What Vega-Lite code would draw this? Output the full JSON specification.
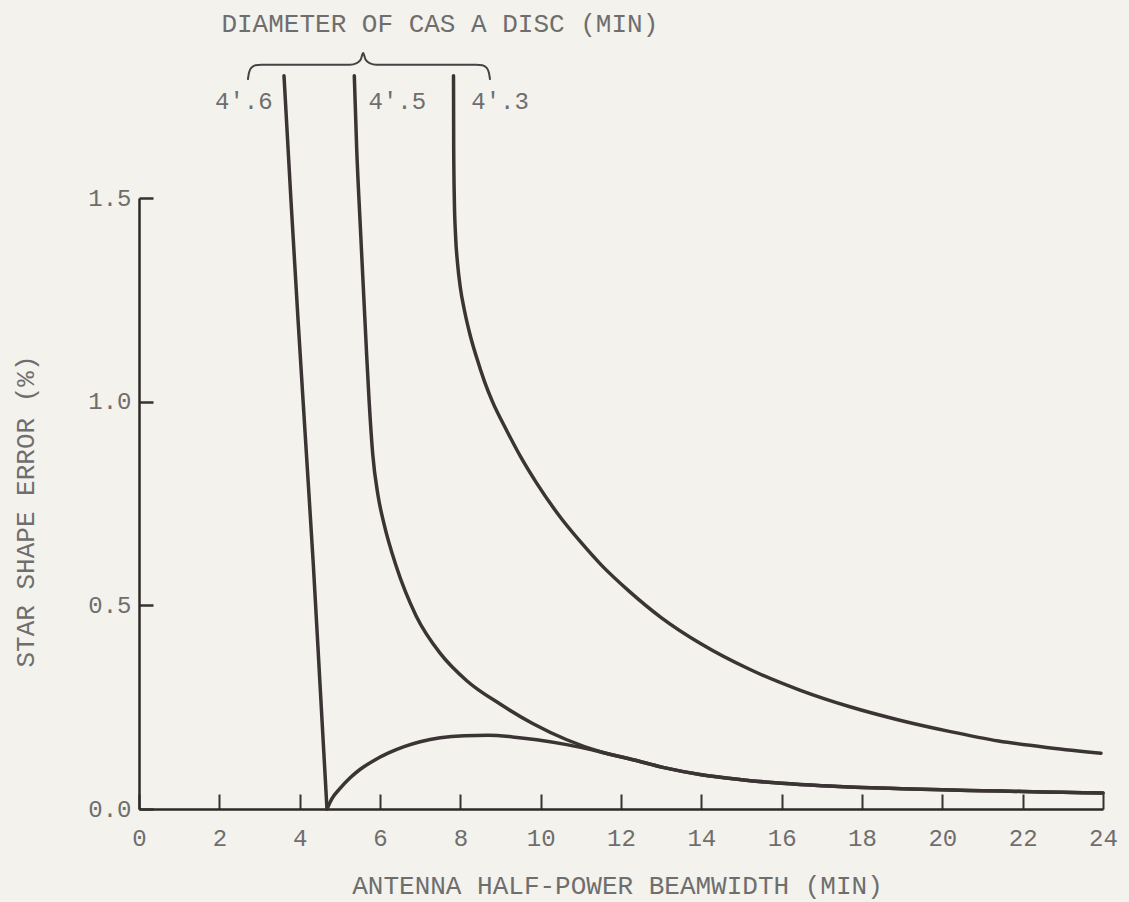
{
  "$schema": "https://vega.github.io/schema/vega-lite/v6.json",
  "width": 964,
  "height": 611,
  "autosize": {"type": "none"},
  "padding": {"left": 139, "top": 198, "right": 26, "bottom": 93},
  "background": "#f4f2ec",
  "config": {"view": {"stroke": null}, "font": "Liberation Mono"},
  "datasets": {
    "curves": [
      {"c": "a", "o": 1, "x": 3.61, "y": 1.8},
      {"c": "a", "o": 2, "x": 3.78, "y": 1.5},
      {"c": "a", "o": 3, "x": 3.96, "y": 1.2},
      {"c": "a", "o": 4, "x": 4.15, "y": 0.9},
      {"c": "a", "o": 5, "x": 4.34, "y": 0.6},
      {"c": "a", "o": 6, "x": 4.51, "y": 0.3},
      {"c": "a", "o": 7, "x": 4.68, "y": 0},
      {"c": "b", "o": 1, "x": 4.68, "y": 0},
      {"c": "b", "o": 2, "x": 4.8, "y": 0.025},
      {"c": "b", "o": 3, "x": 5.0, "y": 0.05},
      {"c": "b", "o": 4, "x": 5.25, "y": 0.076},
      {"c": "b", "o": 5, "x": 5.5, "y": 0.097},
      {"c": "b", "o": 6, "x": 5.83, "y": 0.118},
      {"c": "b", "o": 7, "x": 6.2, "y": 0.137},
      {"c": "b", "o": 8, "x": 6.6, "y": 0.153},
      {"c": "b", "o": 9, "x": 7.0, "y": 0.165},
      {"c": "b", "o": 10, "x": 7.5, "y": 0.175},
      {"c": "b", "o": 11, "x": 8.1, "y": 0.18},
      {"c": "b", "o": 12, "x": 8.7, "y": 0.181},
      {"c": "b", "o": 13, "x": 9.3, "y": 0.177},
      {"c": "b", "o": 14, "x": 9.9, "y": 0.17},
      {"c": "b", "o": 15, "x": 10.65, "y": 0.158},
      {"c": "b", "o": 16, "x": 11.5, "y": 0.14},
      {"c": "b", "o": 17, "x": 12.3, "y": 0.121},
      {"c": "b", "o": 18, "x": 13.1, "y": 0.101},
      {"c": "b", "o": 19, "x": 14.0, "y": 0.084},
      {"c": "b", "o": 20, "x": 15.0, "y": 0.072},
      {"c": "b", "o": 21, "x": 16.0, "y": 0.063},
      {"c": "b", "o": 22, "x": 17.0, "y": 0.057},
      {"c": "b", "o": 23, "x": 18.0, "y": 0.053},
      {"c": "b", "o": 24, "x": 19.0, "y": 0.05},
      {"c": "b", "o": 25, "x": 20.0, "y": 0.047},
      {"c": "b", "o": 26, "x": 21.0, "y": 0.045},
      {"c": "b", "o": 27, "x": 22.0, "y": 0.043},
      {"c": "b", "o": 28, "x": 23.0, "y": 0.041},
      {"c": "b", "o": 29, "x": 24.0, "y": 0.039},
      {"c": "c", "o": 1, "x": 5.36, "y": 1.8},
      {"c": "c", "o": 2, "x": 5.42, "y": 1.62},
      {"c": "c", "o": 3, "x": 5.5, "y": 1.45},
      {"c": "c", "o": 4, "x": 5.58, "y": 1.29},
      {"c": "c", "o": 5, "x": 5.66, "y": 1.13},
      {"c": "c", "o": 6, "x": 5.73, "y": 1.0},
      {"c": "c", "o": 7, "x": 5.82, "y": 0.87},
      {"c": "c", "o": 8, "x": 5.95, "y": 0.77},
      {"c": "c", "o": 9, "x": 6.1, "y": 0.7},
      {"c": "c", "o": 10, "x": 6.4, "y": 0.597},
      {"c": "c", "o": 11, "x": 6.9, "y": 0.474},
      {"c": "c", "o": 12, "x": 7.5, "y": 0.382},
      {"c": "c", "o": 13, "x": 8.16, "y": 0.315},
      {"c": "c", "o": 14, "x": 9.0, "y": 0.257},
      {"c": "c", "o": 15, "x": 9.8, "y": 0.21},
      {"c": "c", "o": 16, "x": 10.65, "y": 0.17},
      {"c": "c", "o": 17, "x": 11.5, "y": 0.14},
      {"c": "c", "o": 18, "x": 12.3, "y": 0.121},
      {"c": "c", "o": 19, "x": 13.1, "y": 0.101},
      {"c": "c", "o": 20, "x": 14.0, "y": 0.084},
      {"c": "c", "o": 21, "x": 15.0, "y": 0.072},
      {"c": "c", "o": 22, "x": 16.0, "y": 0.063},
      {"c": "c", "o": 23, "x": 17.0, "y": 0.057},
      {"c": "c", "o": 24, "x": 18.0, "y": 0.053},
      {"c": "c", "o": 25, "x": 19.0, "y": 0.05},
      {"c": "c", "o": 26, "x": 20.0, "y": 0.047},
      {"c": "c", "o": 27, "x": 21.0, "y": 0.045},
      {"c": "c", "o": 28, "x": 22.0, "y": 0.043},
      {"c": "c", "o": 29, "x": 23.0, "y": 0.041},
      {"c": "c", "o": 30, "x": 24.0, "y": 0.039},
      {"c": "d", "o": 1, "x": 7.83, "y": 1.8},
      {"c": "d", "o": 2, "x": 7.835, "y": 1.62},
      {"c": "d", "o": 3, "x": 7.85, "y": 1.5},
      {"c": "d", "o": 4, "x": 7.88, "y": 1.41},
      {"c": "d", "o": 5, "x": 7.93, "y": 1.34},
      {"c": "d", "o": 6, "x": 8.0, "y": 1.28},
      {"c": "d", "o": 7, "x": 8.1, "y": 1.225},
      {"c": "d", "o": 8, "x": 8.24, "y": 1.165},
      {"c": "d", "o": 9, "x": 8.4, "y": 1.11},
      {"c": "d", "o": 10, "x": 8.6, "y": 1.05},
      {"c": "d", "o": 11, "x": 8.8, "y": 1.0},
      {"c": "d", "o": 12, "x": 9.15, "y": 0.93},
      {"c": "d", "o": 13, "x": 9.5, "y": 0.865},
      {"c": "d", "o": 14, "x": 9.9, "y": 0.8},
      {"c": "d", "o": 15, "x": 10.5, "y": 0.715},
      {"c": "d", "o": 16, "x": 11.0, "y": 0.655},
      {"c": "d", "o": 17, "x": 11.5, "y": 0.6},
      {"c": "d", "o": 18, "x": 12.2, "y": 0.535},
      {"c": "d", "o": 19, "x": 13.0, "y": 0.47},
      {"c": "d", "o": 20, "x": 14.0, "y": 0.405},
      {"c": "d", "o": 21, "x": 15.2, "y": 0.343},
      {"c": "d", "o": 22, "x": 16.45, "y": 0.292},
      {"c": "d", "o": 23, "x": 17.7, "y": 0.251},
      {"c": "d", "o": 24, "x": 18.94, "y": 0.218},
      {"c": "d", "o": 25, "x": 20.2, "y": 0.19},
      {"c": "d", "o": 26, "x": 21.4, "y": 0.167},
      {"c": "d", "o": 27, "x": 22.7, "y": 0.15},
      {"c": "d", "o": 28, "x": 23.95, "y": 0.137}
    ],
    "brace": [
      {"x": 2.71, "y": 1.79},
      {"x": 2.74, "y": 1.808},
      {"x": 2.8, "y": 1.82},
      {"x": 2.9, "y": 1.826},
      {"x": 3.05, "y": 1.827},
      {"x": 5.25, "y": 1.827},
      {"x": 5.42, "y": 1.831},
      {"x": 5.52, "y": 1.84},
      {"x": 5.58, "y": 1.856},
      {"x": 5.64, "y": 1.84},
      {"x": 5.74, "y": 1.831},
      {"x": 5.91, "y": 1.827},
      {"x": 8.4, "y": 1.827},
      {"x": 8.55, "y": 1.826},
      {"x": 8.65, "y": 1.82},
      {"x": 8.71, "y": 1.808},
      {"x": 8.74, "y": 1.79}
    ],
    "labels": [
      {"x": 2.61, "y": 1.735, "t": "4'.6", "s": 24},
      {"x": 6.43, "y": 1.735, "t": "4'.5", "s": 24},
      {"x": 8.99, "y": 1.735, "t": "4'.3", "s": 24},
      {"x": 7.49, "y": 1.926, "t": "DIAMETER OF CAS A DISC (MIN)", "s": 26}
    ]
  },
  "encoding": {
    "x": {
      "field": "x", "type": "quantitative",
      "scale": {"domain": [0, 24], "nice": false, "zero": false},
      "axis": {
        "values": [0, 2, 4, 6, 8, 10, 12, 14, 16, 18, 20, 22, 24],
        "title": "ANTENNA HALF-POWER BEAMWIDTH (MIN)",
        "grid": false, "domainColor": "#2e2929", "domainWidth": 2.5,
        "tickColor": "#333333", "tickWidth": 2, "tickSize": -15,
        "labelPadding": 32, "labelFont": "Liberation Mono", "labelFontSize": 24, "labelColor": "#6e6e6e",
        "labelFlush": false, "labelOverlap": false,
        "titleFont": "Liberation Mono", "titleFontSize": 26, "titleFontWeight": "normal", "titleColor": "#6e6e6e",
        "titleX": 478, "titleY": 76, "titleBaseline": "middle", "titleAlign": "center"
      }
    },
    "y": {
      "field": "y", "type": "quantitative",
      "scale": {"domain": [0, 1.5], "nice": false, "zero": false},
      "axis": {
        "values": [0, 0.5, 1, 1.5], "format": ".1f",
        "title": "STAR SHAPE ERROR (%)",
        "grid": false, "domainColor": "#2e2929", "domainWidth": 2.5,
        "tickColor": "#333333", "tickWidth": 2.5, "tickSize": -14,
        "labelPadding": 22, "labelFont": "Liberation Mono", "labelFontSize": 24, "labelColor": "#6e6e6e",
        "labelFlush": false, "labelOverlap": false,
        "titleFont": "Liberation Mono", "titleFontSize": 26, "titleFontWeight": "normal", "titleColor": "#6e6e6e",
        "titleX": -114, "titleY": 313, "titleBaseline": "middle", "titleAlign": "center"
      }
    }
  },
  "layer": [
    {
      "data": {"name": "curves"},
      "mark": {"type": "line", "interpolate": "monotone", "clip": false, "strokeWidth": 3.5, "color": "#3b3434", "strokeCap": "round"},
      "encoding": {"detail": {"field": "c"}, "order": {"field": "o", "type": "quantitative"}}
    },
    {
      "data": {"name": "brace"},
      "mark": {"type": "line", "interpolate": "monotone", "clip": false, "strokeWidth": 2, "color": "#444444"},
      "encoding": {}
    },
    {
      "data": {"name": "labels"},
      "mark": {"type": "text", "clip": false, "font": "Liberation Mono", "color": "#6e6e6e", "align": "center", "baseline": "middle"},
      "encoding": {"text": {"field": "t"}, "size": {"field": "s", "type": "quantitative", "scale": null}}
    }
  ]
}
